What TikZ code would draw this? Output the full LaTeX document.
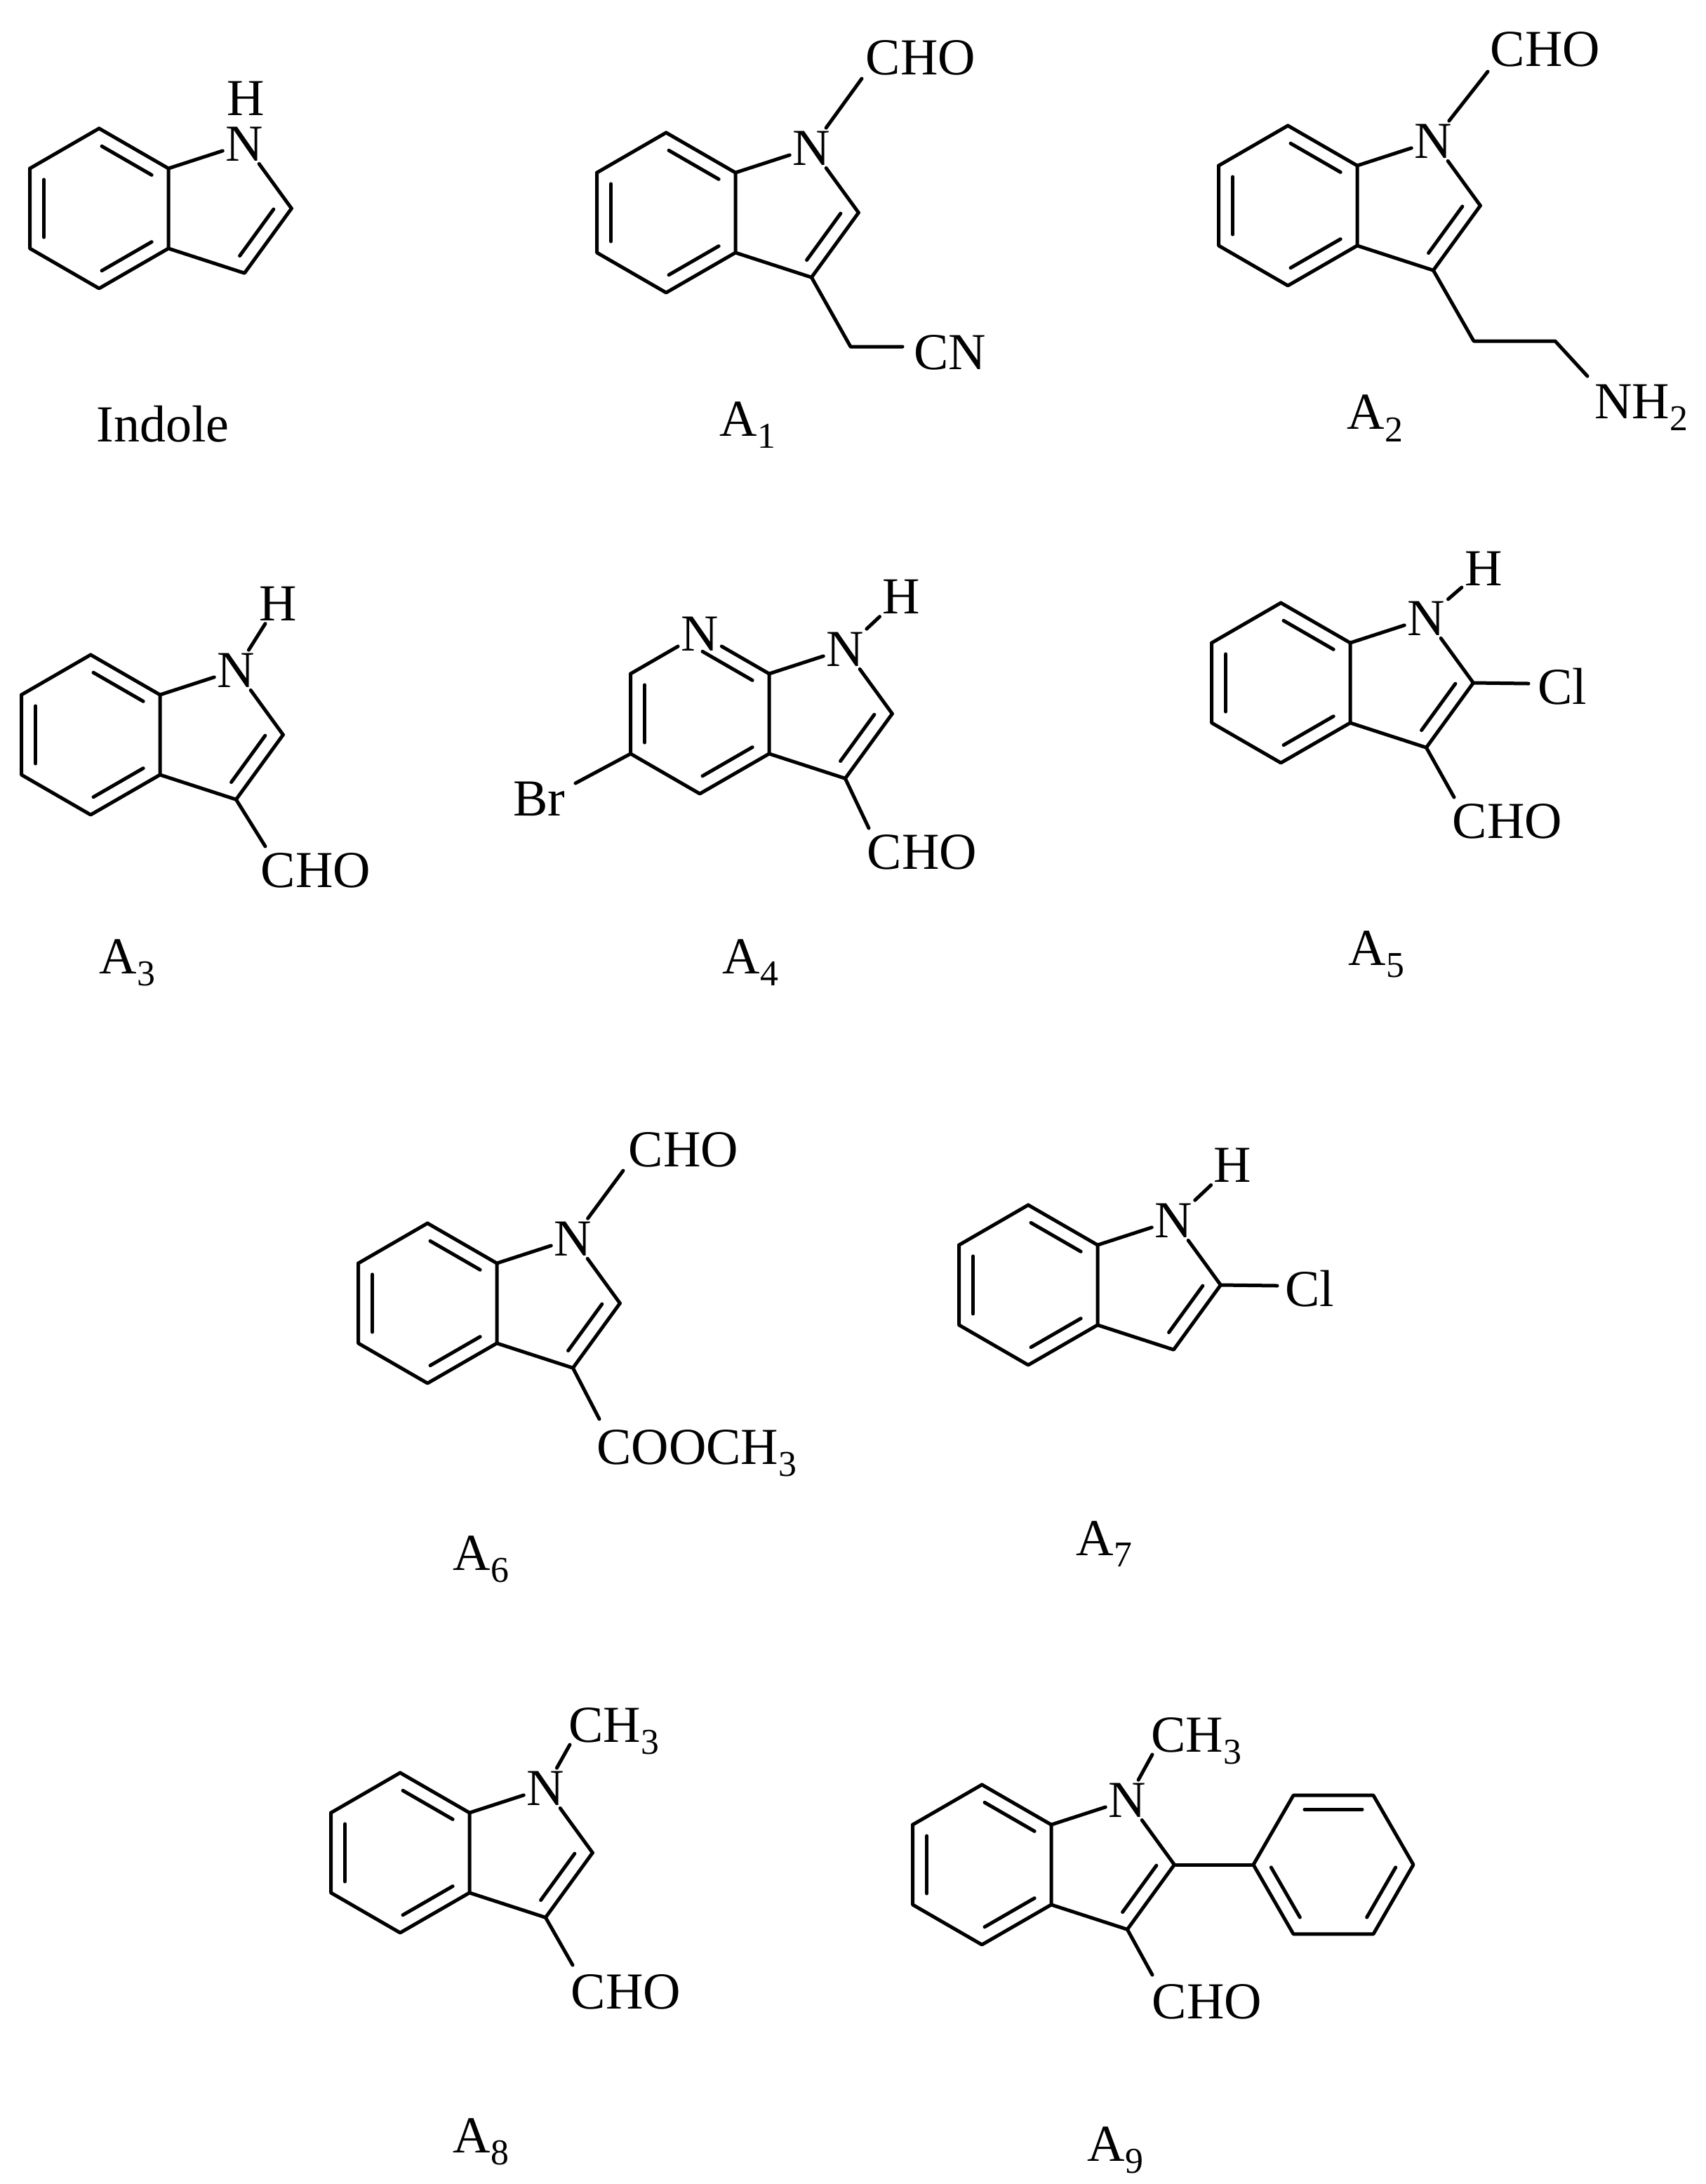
\documentclass[tikz,border=0pt]{standalone}
\usepackage{fontspec}
\setmainfont{Liberation Serif}
\usetikzlibrary{calc}
\tikzset{
  bond/.style={line width=2.5pt,line cap=round,line join=round},
  atom/.style={inner sep=2pt,font=\fontsize{37}{42}\selectfont},
  lbl/.style={inner sep=0pt,font=\fontsize{37}{42}\selectfont},
}
\newcommand{\dbl}[3]{%
  \coordinate (dP) at ($(#1)!(#3)!(#2)$);
  \coordinate (dQ) at ($(dP)!10pt!(#3)$);
  \draw[bond] ($(#1)!0.14!(#2)+(dQ)-(dP)$) -- ($(#2)!0.14!(#1)+(dQ)-(dP)$);}
% indole skeleton: #1 prefix, #2 x, #3 y of C7a; #4 =1 for aza (N at C7)
\newcommand{\indole}[4]{%
  \begin{scope}[shift={(#2,#3)}]
  \coordinate (#1a) at (0,0);
  \coordinate (#1b) at (0,57);
  \coordinate (#1c4) at (-49.4,85.5);
  \coordinate (#1c5) at (-98.7,57);
  \coordinate (#1c6) at (-98.7,0);
  \coordinate (#1c2) at (87.7,28.5);
  \coordinate (#1c3) at (54.2,74.6);
  \coordinate (#1ctr) at (-49.4,28.5);
  \coordinate (#1pc) at (39,28.5);
  \node[atom] (#1n) at (54.2,-17.6) {N};
  \ifnum#4=1 \node[atom] (#1c7) at (-49.4,-28.5) {N};
  \else \coordinate (#1c7) at (-49.4,-28.5);\fi
  \end{scope}
  \draw[bond] (#1c6) -- (#1c7);
  \draw[bond] (#1c7) -- (#1a);
  \draw[bond] (#1a) -- (#1b) -- (#1c4) -- (#1c5) -- (#1c6);
  \draw[bond] (#1a) -- (#1n);
  \draw[bond] (#1n) -- (#1c2);
  \draw[bond] (#1c2) -- (#1c3) -- (#1b);
  \dbl{#1c7}{#1a}{#1ctr}
  \dbl{#1c5}{#1c6}{#1ctr}
  \dbl{#1b}{#1c4}{#1ctr}
  \dbl{#1c2}{#1c3}{#1pc}}
\begin{document}
\begin{tikzpicture}[x=1pt,y=-1pt]
\useasboundingbox[fill=white] (0,0) rectangle (1215.5,1556);
% Indole
\indole{I}{120}{120}{0}
\node[lbl] (Ih) at (175,70) {H};
\node[lbl] (Il) at (116,302) {Indole};
% A1
\indole{P}{524}{123}{0}
\coordinate (Pm) at (614,56);
\node[lbl] (Pcho) at (656,41) {CHO};
\draw[bond] (Pn) -- (Pm);
\coordinate (Pch) at (606,247);
\coordinate (Pe) at (643,247);
\node[lbl] (Pcn) at (677,251) {CN};
\draw[bond] (Pc3) -- (Pch) -- (Pe);
\node[lbl] (Pl) at (533,303) {A\textsubscript{1}};
% A2
\indole{Q}{967}{118}{0}
\coordinate (Qm) at (1060,51);
\node[lbl] (Qcho) at (1101,35) {CHO};
\draw[bond] (Qn) -- (Qm);
\coordinate (Qx) at (1050,243);
\coordinate (Qy) at (1108,243);
\coordinate (Qz) at (1131,268);
\node[lbl,anchor=base west] (Qnh) at (1136,298) {NH\textsubscript{2}};
\draw[bond] (Qc3) -- (Qx) -- (Qy) -- (Qz);
\node[lbl] (Ql) at (980,298) {A\textsubscript{2}};
% A3
\indole{R}{114}{495}{0}
\node[atom] (Rh) at (198,430) {H};
\draw[bond] (Rn) -- (Rh);
\coordinate (Rm) at (189,603);
\node[lbl] (Rcho) at (225,620) {CHO};
\draw[bond] (Rc3) -- (Rm);
\node[lbl] (Rl) at (91,686) {A\textsubscript{3}};
% A4
\indole{S}{548}{480}{1}
\node[atom] (Sh) at (642,425) {H};
\draw[bond] (Sn) -- (Sh);
\coordinate (Sbr) at (410,558);
\node[lbl] (Sbrl) at (384,569) {Br};
\draw[bond] (Sc5) -- (Sbr);
\coordinate (Sm) at (619,590);
\node[lbl] (Scho) at (657,607) {CHO};
\draw[bond] (Sc3) -- (Sm);
\node[lbl] (Sl) at (535,686) {A\textsubscript{4}};
% A5
\indole{T}{962}{458}{0}
\node[atom] (Th) at (1057,405) {H};
\draw[bond] (Tn) -- (Th);
\coordinate (Tcl) at (1089,487);
\node[lbl] (Tcll) at (1113,489) {Cl};
\draw[bond] (Tc2) -- (Tcl);
\coordinate (Tm) at (1036,568);
\node[lbl] (Tcho) at (1074,585) {CHO};
\draw[bond] (Tc3) -- (Tm);
\node[lbl] (Tl) at (981,680) {A\textsubscript{5}};
% A6
\indole{U}{354}{900}{0}
\coordinate (Um) at (444,834);
\node[lbl] (Ucho) at (487,819) {CHO};
\draw[bond] (Un) -- (Um);
\coordinate (Ue) at (427,1011);
\node[lbl,anchor=base west] (Uest) at (425,1043) {COOCH\textsubscript{3}};
\draw[bond] (Uc3) -- (Ue);
\node[lbl] (Ul) at (343,1111) {A\textsubscript{6}};
% A7
\indole{V}{782}{887}{0}
\node[atom] (Vh) at (878,830) {H};
\draw[bond] (Vn) -- (Vh);
\coordinate (Vcl) at (910,916);
\node[lbl] (Vcll) at (933,918) {Cl};
\draw[bond] (Vc2) -- (Vcl);
\node[lbl] (Vl) at (787,1100) {A\textsubscript{7}};
% A8
\indole{W}{334.5}{1291.5}{0}
\coordinate (Wm) at (406,1243);
\node[lbl,anchor=base west] (Wme) at (405,1241) {CH\textsubscript{3}};
\draw[bond] (Wn) -- (Wm);
\coordinate (Wk) at (408,1400);
\node[lbl] (Wcho) at (446,1419) {CHO};
\draw[bond] (Wc3) -- (Wk);
\node[lbl] (Wl) at (343,1526) {A\textsubscript{8}};
% A9
\indole{X}{749}{1300}{0}
\coordinate (Xm) at (821,1250);
\node[lbl,anchor=base west] (Xme) at (820,1248) {CH\textsubscript{3}};
\draw[bond] (Xn) -- (Xm);
\coordinate (Xk) at (821,1407);
\node[lbl] (Xcho) at (860,1426) {CHO};
\draw[bond] (Xc3) -- (Xk);
\coordinate (Xp1) at (893,1328.5);
\coordinate (Xp2) at (921.5,1279.1);
\coordinate (Xp3) at (978.5,1279.1);
\coordinate (Xp4) at (1007,1328.5);
\coordinate (Xp5) at (978.5,1377.9);
\coordinate (Xp6) at (921.5,1377.9);
\coordinate (Xpc) at (950,1328.5);
\draw[bond] (Xc2) -- (Xp1);
\draw[bond] (Xp1) -- (Xp2) -- (Xp3) -- (Xp4) -- (Xp5) -- (Xp6) -- cycle;
\dbl{Xp2}{Xp3}{Xpc}
\dbl{Xp4}{Xp5}{Xpc}
\dbl{Xp6}{Xp1}{Xpc}
\node[lbl] (Xl) at (795,1532) {A\textsubscript{9}};
\end{tikzpicture}
\end{document}
